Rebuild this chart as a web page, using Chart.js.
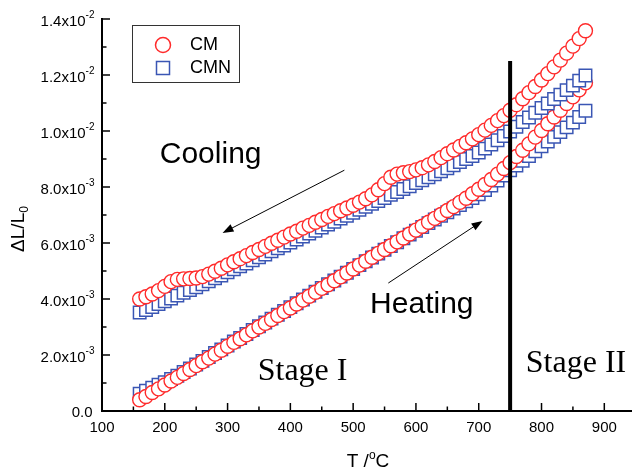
<!DOCTYPE html>
<html>
<head>
<meta charset="utf-8">
<script src="https://cdn.jsdelivr.net/npm/chart.js@4/dist/chart.umd.min.js"></script>
<style>
  html, body { margin: 0; padding: 0; background: #fff; overflow: hidden; }
  #contenedor { width: 646px; height: 468px; }
</style>
</head>
<body>
<div id="contenedor"><canvas id="grafico" width="646" height="468"></canvas></div>
<script>
// Temperatura de cada medida (°C)
const temperaturas = [
    160, 170, 180, 190, 200, 210, 220, 230, 240, 250, 260, 270, 280, 290, 300, 310, 320, 330,
    340, 350, 360, 370, 380, 390, 400, 410, 420, 430, 440, 450, 460, 470, 480, 490, 500, 510,
    520, 530, 540, 550, 560, 570, 580, 590, 600, 610, 620, 630, 640, 650, 660, 670, 680, 690,
    700, 710, 720, 730, 740, 750, 760, 770, 780, 790, 800, 810, 820, 830, 840, 850, 860, 870
];

// ΔL/L0 en unidades de 1e-3
const cmCalentamiento = [
    0.40, 0.52, 0.66, 0.79, 0.93, 1.07, 1.20, 1.34, 1.48, 1.62, 1.76, 1.89, 2.03, 2.17, 2.31, 2.45, 2.58, 2.72,
    2.86, 3.00, 3.13, 3.27, 3.41, 3.55, 3.68, 3.82, 3.96, 4.10, 4.24, 4.38, 4.51, 4.65, 4.79, 4.93, 5.07, 5.21,
    5.35, 5.49, 5.63, 5.77, 5.90, 6.04, 6.18, 6.32, 6.46, 6.60, 6.74, 6.88, 7.02, 7.16, 7.30, 7.45, 7.60, 7.76,
    7.92, 8.09, 8.27, 8.46, 8.66, 8.87, 9.09, 9.31, 9.54, 9.78, 10.02, 10.26, 10.50, 10.74, 10.98, 11.22, 11.47, 11.72
];
const cmEnfriamiento = [
    4.00, 4.08, 4.18, 4.30, 4.45, 4.62, 4.70, 4.72, 4.73, 4.75, 4.80, 4.89, 4.99, 5.10, 5.22, 5.33, 5.44, 5.55,
    5.66, 5.77, 5.88, 5.99, 6.10, 6.21, 6.32, 6.42, 6.53, 6.63, 6.74, 6.84, 6.95, 7.05, 7.15, 7.25, 7.35, 7.46,
    7.58, 7.72, 7.90, 8.12, 8.35, 8.46, 8.51, 8.55, 8.61, 8.69, 8.79, 8.91, 9.05, 9.19, 9.32, 9.45, 9.58, 9.72,
    9.87, 10.03, 10.20, 10.37, 10.55, 10.74, 10.94, 11.15, 11.37, 11.59, 11.82, 12.05, 12.29, 12.53, 12.78, 13.03, 13.30, 13.58
];
const cmnCalentamiento = [
    0.62, 0.72, 0.83, 0.94, 1.03, 1.14, 1.26, 1.39, 1.52, 1.66, 1.79, 1.93, 2.07, 2.20, 2.34, 2.48, 2.61, 2.75,
    2.89, 3.03, 3.16, 3.30, 3.44, 3.57, 3.71, 3.85, 3.98, 4.12, 4.26, 4.39, 4.53, 4.66, 4.80, 4.94, 5.07, 5.21,
    5.35, 5.48, 5.62, 5.76, 5.89, 6.03, 6.17, 6.30, 6.44, 6.57, 6.71, 6.84, 6.97, 7.10, 7.23, 7.36, 7.49, 7.61,
    7.74, 7.89, 8.05, 8.23, 8.41, 8.60, 8.77, 8.94, 9.11, 9.28, 9.45, 9.62, 9.79, 9.96, 10.13, 10.30, 10.50, 10.72
];
const cmnEnfriamiento = [
    3.52, 3.61, 3.71, 3.82, 3.92, 4.02, 4.12, 4.22, 4.32, 4.42, 4.53, 4.63, 4.74, 4.84, 4.95, 5.06, 5.17, 5.27,
    5.38, 5.49, 5.59, 5.70, 5.81, 5.91, 6.02, 6.12, 6.23, 6.34, 6.44, 6.55, 6.66, 6.76, 6.87, 6.97, 7.08, 7.19,
    7.29, 7.40, 7.50, 7.61, 7.72, 7.82, 7.93, 8.03, 8.14, 8.24, 8.35, 8.45, 8.56, 8.67, 8.78, 8.89, 9.00, 9.11,
    9.23, 9.37, 9.52, 9.67, 9.82, 9.98, 10.15, 10.32, 10.48, 10.65, 10.82, 10.98, 11.14, 11.30, 11.46, 11.62, 11.80, 11.98
];

// Marcas de los ejes (las mayores llevan etiqueta)
const marcasX = [100, 150, 200, 250, 300, 350, 400, 450, 500, 550, 600, 650, 700, 750, 800, 850, 900, 950];
const etiquetasX = [100, 200, 300, 400, 500, 600, 700, 800, 900];
const marcasY = [0, 1, 2, 3, 4, 5, 6, 7, 8, 9, 10, 11, 12, 13, 14];
const etiquetasY = [0, 2, 4, 6, 8, 10, 12, 14];

// Límite entre Stage I y Stage II
const limiteEtapas = [750, 750];
const alturaLimite = [0, 12.5];

const ROJO = '#ff2b2b';
const AZUL = '#3a56b4';
const SANS = '"Liberation Sans", Arial, sans-serif';
const SERIF = '"Liberation Serif", "Times New Roman", serif';

const aPuntos = (valores) => temperaturas.map((t, i) => ({ x: t, y: valores[i] }));

// Textos y flechas en coordenadas de datos
const anotaciones = [
    { texto: 'Cooling', t: 192, v: 8.86, font: '30px ' + SANS },
    { texto: 'Heating', t: 527, v: 3.50, font: '30px ' + SANS },
    { texto: 'Stage I', t: 348, v: 1.11, font: '32px ' + SERIF },
    { texto: 'Stage II', t: 775, v: 1.39, font: '32px ' + SERIF }
];
const flechas = [
    { desde: [486, 8.60], hasta: [292, 6.36] },
    { desde: [556, 4.57], hasta: [706, 6.79] }
];

function dibujarFlecha(ctx, x1, y1, x2, y2) {
    const ang = Math.atan2(y2 - y1, x2 - x1);
    const largo = 11, ancho = 4;
    const c = Math.cos(ang), s = Math.sin(ang);
    ctx.beginPath();
    ctx.moveTo(x1, y1);
    ctx.lineTo(x2 - c * largo * 0.8, y2 - s * largo * 0.8);
    ctx.stroke();
    ctx.beginPath();
    ctx.moveTo(x2, y2);
    ctx.lineTo(x2 - c * largo + s * ancho, y2 - s * largo - c * ancho);
    ctx.lineTo(x2 - c * largo - s * ancho, y2 - s * largo + c * ancho);
    ctx.closePath();
    ctx.fill();
}

/**
 * Plugin con marcas interiores, etiquetas con exponentes, títulos, leyenda y anotaciones
 */
const pluginDecoracion = {
    id: 'decoracion',
    afterDraw(chart) {
        const ctx = chart.ctx;
        const x = chart.scales.x;
        const y = chart.scales.y;
        const area = chart.chartArea;

        ctx.save();
        ctx.strokeStyle = '#000';
        ctx.fillStyle = '#000';
        ctx.lineWidth = 1.5;

        // Marcas hacia dentro
        marcasX.forEach(v => {
            const px = x.getPixelForValue(v);
            const largo = etiquetasX.includes(v) || v === 950 ? 8 : 4.5;
            ctx.beginPath();
            ctx.moveTo(px, area.bottom);
            ctx.lineTo(px, area.bottom - largo);
            ctx.stroke();
        });
        marcasY.forEach(v => {
            const py = y.getPixelForValue(v);
            const largo = etiquetasY.includes(v) ? 8 : 4.5;
            ctx.beginPath();
            ctx.moveTo(area.left, py);
            ctx.lineTo(area.left + largo, py);
            ctx.stroke();
        });

        // Etiquetas del eje Y con potencia de diez
        const bordeDerecho = area.left - 7.5;
        ctx.textBaseline = 'alphabetic';
        etiquetasY.forEach(v => {
            const py = y.getPixelForValue(v);
            if (v === 0) {
                ctx.font = '15px ' + SANS;
                ctx.textAlign = 'right';
                ctx.fillText('0.0', bordeDerecho - 2, py + 5.5);
                return;
            }
            const mantisa = (v < 10 ? v.toFixed(1) : (v / 10).toFixed(1)) + 'x10';
            const exponente = v < 10 ? '-3' : '-2';
            ctx.font = '10px ' + SANS;
            ctx.textAlign = 'right';
            const anchoExp = ctx.measureText(exponente).width;
            ctx.fillText(exponente, bordeDerecho, py - 1.2);
            ctx.font = '15px ' + SANS;
            ctx.fillText(mantisa, bordeDerecho - anchoExp, py + 6.5);
        });

        // Título del eje X: T /ºC
        ctx.textAlign = 'left';
        const centroX = 368;
        ctx.font = '19px ' + SANS;
        const w1 = ctx.measureText('T /').width;
        const w3 = ctx.measureText('C').width;
        ctx.font = '12px ' + SANS;
        const w2 = ctx.measureText('o').width;
        let cx = centroX - (w1 + w2 + w3) / 2;
        const baseX = 467;
        ctx.font = '19px ' + SANS;
        ctx.fillText('T /', cx, baseX);
        ctx.font = '12px ' + SANS;
        ctx.fillText('o', cx + w1, baseX - 8);
        ctx.font = '19px ' + SANS;
        ctx.fillText('C', cx + w1 + w2, baseX);

        // Título del eje Y: ΔL/L0
        ctx.save();
        ctx.translate(24, 229);
        ctx.rotate(-Math.PI / 2);
        ctx.font = '19px ' + SANS;
        const a1 = ctx.measureText('\u0394L/L').width;
        ctx.font = '12px ' + SANS;
        const a2 = ctx.measureText('0').width;
        const inicio = -(a1 + a2) / 2;
        ctx.font = '19px ' + SANS;
        ctx.fillText('\u0394L/L', inicio, 0);
        ctx.font = '12px ' + SANS;
        ctx.fillText('0', inicio + a1, 4);
        ctx.restore();

        // Anotaciones
        anotaciones.forEach(a => {
            ctx.font = a.font;
            ctx.fillText(a.texto, x.getPixelForValue(a.t), y.getPixelForValue(a.v));
        });
        ctx.lineWidth = 1;
        flechas.forEach(f => {
            dibujarFlecha(ctx,
                x.getPixelForValue(f.desde[0]), y.getPixelForValue(f.desde[1]),
                x.getPixelForValue(f.hasta[0]), y.getPixelForValue(f.hasta[1]));
        });

        // Leyenda con marco
        ctx.strokeStyle = '#333';
        ctx.lineWidth = 1;
        ctx.strokeRect(132.5, 25.5, 107, 57);
        ctx.fillStyle = '#fff';
        ctx.lineWidth = 1.5;
        ctx.strokeStyle = ROJO;
        ctx.beginPath();
        ctx.arc(163, 45, 7.5, 0, Math.PI * 2);
        ctx.fill();
        ctx.stroke();
        ctx.strokeStyle = AZUL;
        ctx.fillRect(156.5, 61.5, 13, 13);
        ctx.strokeRect(156.5, 61.5, 13, 13);
        ctx.fillStyle = '#000';
        ctx.font = '18px ' + SANS;
        ctx.textBaseline = 'middle';
        ctx.fillText('CM', 190, 45);
        ctx.fillText('CMN', 190, 68.5);

        ctx.restore();
    }
};

const estiloCM = {
    pointStyle: 'circle', pointRadius: 7, pointBorderWidth: 1.4,
    borderColor: ROJO, backgroundColor: '#fff', showLine: false
};
const estiloCMN = {
    pointStyle: 'rect', pointRadius: 8.8, pointBorderWidth: 1.5,
    borderColor: AZUL, backgroundColor: '#fff', showLine: false
};

document.addEventListener('DOMContentLoaded', () => {
    const ctx = document.getElementById('grafico');
    // El primer conjunto se dibuja encima
    new Chart(ctx, {
        type: 'scatter',
        data: {
            datasets: [
                {
                    label: 'limite',
                    data: limiteEtapas.map((t, i) => ({ x: t, y: alturaLimite[i] })),
                    showLine: true, borderColor: '#000', borderWidth: 4, pointRadius: 0
                },
                { label: 'CM', data: aPuntos(cmEnfriamiento), ...estiloCM },
                { label: 'CMN', data: aPuntos(cmnEnfriamiento), ...estiloCMN },
                { label: 'CM', data: aPuntos(cmCalentamiento), ...estiloCM },
                { label: 'CMN', data: aPuntos(cmnCalentamiento), ...estiloCMN }
            ]
        },
        options: {
            responsive: false,
            animation: false,
            events: [],
            layout: { padding: { left: 102, top: 19, right: 5, bottom: 23 } },
            plugins: { legend: { display: false }, tooltip: { enabled: false } },
            scales: {
                x: {
                    type: 'linear', min: 100, max: 950,
                    afterBuildTicks: (eje) => { eje.ticks = marcasX.map(v => ({ value: v })); },
                    grid: { display: false, drawTicks: false },
                    border: { display: true, color: '#000', width: 2 },
                    ticks: {
                        autoSkip: false, maxRotation: 0, padding: 8, color: '#000',
                        font: { family: SANS, size: 15 },
                        callback: (v) => etiquetasX.includes(v) ? String(v) : ''
                    }
                },
                y: {
                    type: 'linear', min: 0, max: 14,
                    afterBuildTicks: (eje) => { eje.ticks = marcasY.map(v => ({ value: v })); },
                    grid: { display: false, drawTicks: false },
                    border: { display: true, color: '#000', width: 2 },
                    ticks: { display: false }
                }
            }
        },
        plugins: [pluginDecoracion]
    });
});
</script>
</body>
</html>
